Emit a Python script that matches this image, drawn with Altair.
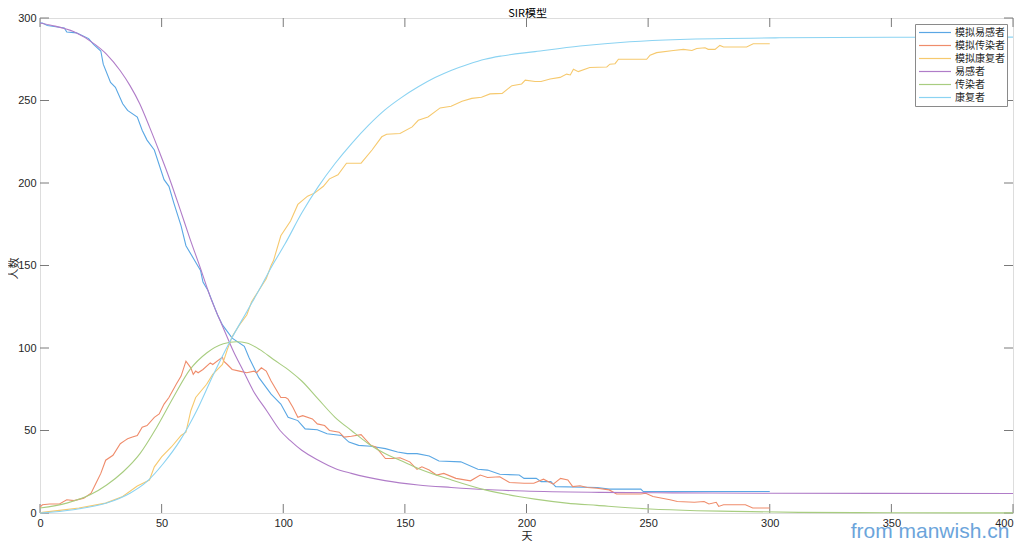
import altair as alt
import pandas as pd

# ---------------- data ----------------
names = ["模拟易感者", "模拟传染者", "模拟康复者", "易感者", "传染者", "康复者"]
colors = ["#5aa7e4", "#ef8c6b", "#f6c96e", "#b07cc8", "#a8cd80", "#8bd3f2"]

# simulated susceptible
sim_s_t = [0, 1, 3, 10, 11, 15, 20, 22, 25, 26, 29, 31, 34, 36, 40, 42, 44, 47, 51, 53,
           55, 58, 60, 64, 66, 67, 69, 73, 75, 79, 84, 86, 90, 95, 99, 102, 106, 109, 114, 118,
           124, 127, 131, 136, 142, 147, 151, 155, 160, 164, 173, 180, 184, 189, 197, 199, 204, 206, 210, 212,
           229, 234, 247, 248, 300]
sim_s_v = [297, 297, 295.5, 294, 291.5, 291, 287.5, 284, 280, 272, 261, 258, 248, 244, 240, 232, 226, 220, 202, 198,
           188, 174, 162, 152, 147, 140, 135, 120, 114, 106, 101, 94, 82, 72, 66, 58, 56, 51, 50.5, 48,
           47, 43, 41, 40.5, 39, 37, 36, 36, 34.5, 31.5, 31, 26.5, 26, 23.5, 23, 21, 21, 19, 19, 16,
           15.5, 14.5, 14.5, 13, 13]

# simulated infected
sim_i_t = [0, 1, 4, 8, 11, 14, 18, 21, 23, 25, 27, 30, 33, 35, 36, 38, 40, 42, 44, 47,
           49, 51, 53, 56, 58, 60, 62, 63, 64, 65, 67, 70, 71, 75, 75.5, 77, 79, 82, 85, 88,
           89, 91, 93, 95, 97, 99, 101, 102, 104, 106, 108, 112, 114, 117, 119, 123, 125, 128, 132, 136,
           138, 142, 145, 148, 152, 155, 157, 160, 163, 166, 171, 177, 181, 184, 189, 193, 199, 203, 207, 211,
           214, 217, 219, 222, 225, 229, 234, 237, 247, 249, 252, 259, 262, 269, 273, 275, 278, 279, 281, 290,
           293, 300]
sim_i_v = [3.5, 5, 5.5, 5.5, 8, 7.5, 9, 12, 18, 24, 32, 35, 42, 44, 45, 46, 47, 52, 53, 58,
           60, 66, 70, 78, 83, 92, 88, 84, 86, 85, 87, 91, 90, 94.5, 92, 90, 87, 86, 85, 86,
           85, 88, 86, 80, 75, 70, 70, 69, 64, 58, 59, 57, 54, 53, 50, 49, 46, 46.5, 47.5, 41,
           40, 33, 33, 33.5, 31, 26.5, 28, 26, 23, 24, 21, 19.5, 23, 21.5, 22, 18.5, 18, 18, 20.5, 17.5,
           21, 20, 16, 16.5, 15.5, 15, 14, 11.5, 11.5, 12, 10, 8, 7, 6.5, 7, 5.5, 6.5, 4, 5, 5,
           3, 3]

# simulated recovered
sim_r_t = [0, 1, 8, 16, 27, 34, 40, 45, 47, 50, 54, 58, 60, 62, 64, 68.5, 71, 75, 77, 79,
           82, 85, 87, 90, 93, 95, 96, 99, 103, 106, 110, 113, 116.5, 119, 122.5, 126, 132, 136.5, 140.5, 142.5,
           148, 153, 155.5, 159.5, 164.5, 169, 173.5, 177.5, 181.5, 185, 190, 194, 198, 199.5, 203.5, 206, 209.7, 213.8, 216.5, 218,
           219.3, 221.3, 226, 233, 234.3, 236.4, 237.8, 249.4, 250.8, 253.5, 260.4, 264.5, 268, 270, 273.4, 274.7, 277.5, 279.5, 281, 290.5,
           293.2, 300]
sim_r_v = [0, 0.4, 1.6, 3, 6, 10, 16.4, 20, 28, 34, 40, 47, 49, 62, 70, 78, 84, 90, 99, 107,
           114, 120, 128, 135, 142, 150, 153, 168, 177, 187, 192, 194, 198, 202.5, 205, 212, 212, 220, 228, 229.5,
           230, 234, 238, 240, 245.5, 246.5, 249.5, 251.3, 252, 254, 254.3, 259, 260, 262.3, 261.5, 261.5, 263, 264, 266, 265.5,
           269, 267.5, 270, 270.3, 272, 272.3, 275, 275, 277.5, 279, 280.3, 281, 280.3, 281.5, 282, 281, 281, 283.4, 282.4, 282.4,
           284.4, 284.4]

# model susceptible
det_s_t = [0, 5, 14, 22.6, 27.4, 33, 37, 41, 45, 49.3, 53.4, 57.6, 61.7, 65.8, 70, 75.4, 79.5, 83.6, 87.7, 93.2,
           98.7, 102.8, 107.6, 114.4, 121.3, 128, 141.8, 155.5, 169, 183, 199, 230, 260, 300, 400]
det_s_v = [297, 295.5, 291.6, 284, 278, 268, 259, 248, 234, 218, 202, 184, 166, 149, 131, 112, 98, 86, 74, 62,
           50, 44, 38, 32, 27, 24, 19.6, 17, 15.5, 14.2, 13.3, 12.5, 12.2, 12, 11.8]

# model infected
det_i_t = [0, 11, 20.6, 27.4, 34.2, 41.1, 48, 54.8, 61.7, 68.5, 75.4, 80.8, 85, 90.4, 96, 102.8, 107.6, 114.4, 121.3, 128,
           135, 141.8, 148, 155.5, 169.2, 183, 196.6, 203.5, 216.5, 229, 250.8, 270, 285, 312, 350, 400]
det_i_v = [3, 6, 11, 17, 25, 36, 52, 70, 87, 97, 102.6, 103.8, 103, 99, 93, 86, 80, 69, 58, 50,
           42, 36, 32, 27, 20, 14, 10, 8.4, 6, 4.6, 2.4, 1.4, 1, 0.4, 0.15, 0.05]

# model recovered
det_r_t = [0, 13.7, 27.4, 37, 43.9, 50.7, 57.6, 64.4, 71.3, 78.1, 85, 90.4, 95.9, 100.7, 107.6, 114.4, 121.3, 128.1, 135, 141.8,
           148.7, 155.5, 162.4, 169.2, 176.1, 182.9, 189.8, 203.5, 222, 242.5, 263, 304, 350, 400]
det_r_v = [0, 2, 6, 12, 19, 30, 44, 62, 84, 104, 122, 136, 151, 163, 181.8, 197.8, 211.8, 223.9, 234.9, 244.3,
           251.9, 258.3, 263.9, 268.4, 272, 275, 277, 279.6, 283, 285.6, 287, 288, 288.3, 288.4]

x_ticks = [0, 50, 100, 150, 200, 250, 300, 350, 400]
y_ticks = [0, 50, 100, 150, 200, 250, 300]

title_text = ["SIR模型"]
x_title = "天"
y_title = "人数"
watermark = ["from manwish.cn"]

# ---------------- build ----------------
W, H = 973, 495
AX = "#7a7a7a"
TICK_LEN = 9


def frame(ts, vs, name):
    return pd.DataFrame({"t": ts, "v": vs, "series": name})


sim_df = pd.concat([frame(sim_s_t, sim_s_v, names[0]),
                    frame(sim_i_t, sim_i_v, names[1]),
                    frame(sim_r_t, sim_r_v, names[2])], ignore_index=True)
det_df = pd.concat([frame(det_s_t, det_s_v, names[3]),
                    frame(det_i_t, det_i_v, names[4]),
                    frame(det_r_t, det_r_v, names[5])], ignore_index=True)

xscale = alt.Scale(domain=[0, 400], nice=False, zero=False)
yscale = alt.Scale(domain=[0, 300], nice=False, zero=False)
cscale = alt.Scale(domain=names, range=colors)

xaxis = alt.Axis(title=x_title, values=x_ticks, ticks=False, domain=False, grid=False,
                 labelPadding=4, labelFont="Liberation Sans", labelFontSize=11, labelColor="#262626",
                 labelAlign={"condition": {"test": "datum.value >= 400", "value": "right"}, "value": "center"},
                 titleFont="Noto Sans CJK SC", titleFontSize=11, titleFontWeight="normal",
                 titleColor="#262626", titleY=23, titleBaseline="middle")
yaxis = alt.Axis(title=y_title, values=y_ticks, ticks=False, domain=False, grid=False,
                 labelPadding=4, labelFont="Liberation Sans", labelFontSize=11, labelColor="#262626",
                 titleFont="Noto Sans CJK SC", titleFontSize=11, titleFontWeight="normal",
                 titleColor="#262626", titleAngle=270, titleX=-26, titleY=250, titleBaseline="middle",
                 titleAlign="center")

legend = alt.Legend(title=None, orient="none", legendX=875, legendY=6,
                    symbolType="stroke", symbolSize=1024, symbolStrokeWidth=1.2,
                    symbolOffset=1, clipHeight=13, rowPadding=0, labelOffset=3,
                    labelFont="Noto Sans CJK SC", labelFontSize=10, labelColor="#262626",
                    padding=2, strokeColor="#8a8a8a", fillColor="white", cornerRadius=0)

sim_lines = alt.Chart(sim_df).mark_line(strokeWidth=1.1, interpolate="linear").encode(
    x=alt.X("t:Q", scale=xscale, axis=xaxis),
    y=alt.Y("v:Q", scale=yscale, axis=yaxis),
    color=alt.Color("series:N", scale=cscale, legend=legend, sort=names),
    detail="series:N",
)

det_lines = alt.Chart(det_df).mark_line(strokeWidth=1.1, interpolate="monotone").encode(
    x=alt.X("t:Q", scale=xscale, axis=xaxis),
    y=alt.Y("v:Q", scale=yscale, axis=yaxis),
    color=alt.Color("series:N", scale=cscale, legend=legend, sort=names),
    detail="series:N",
)

xt = pd.DataFrame({"t": x_ticks})
yt = pd.DataFrame({"v": y_ticks})

bottom_ticks = alt.Chart(xt).mark_rule(color=AX, strokeWidth=1).encode(
    x=alt.X("t:Q", scale=xscale, axis=xaxis), y=alt.value(H), y2=alt.value(H - TICK_LEN))
top_ticks = alt.Chart(xt).mark_rule(color=AX, strokeWidth=1).encode(
    x=alt.X("t:Q", scale=xscale, axis=xaxis), y=alt.value(0), y2=alt.value(TICK_LEN))
left_ticks = alt.Chart(yt).mark_rule(color=AX, strokeWidth=1).encode(
    y=alt.Y("v:Q", scale=yscale, axis=yaxis), x=alt.value(0), x2=alt.value(TICK_LEN))
right_ticks = alt.Chart(yt).mark_rule(color=AX, strokeWidth=1).encode(
    y=alt.Y("v:Q", scale=yscale, axis=yaxis), x=alt.value(W), x2=alt.value(W - TICK_LEN))

title_mark = alt.Chart(pd.DataFrame({"label": title_text})).mark_text(
    font="Noto Sans CJK SC", fontSize=11, color="#000000", align="center", baseline="alphabetic"
).encode(text="label:N", x=alt.value(W / 2 + 1), y=alt.value(-1.5))

wm = alt.Chart(pd.DataFrame({"label": watermark})).mark_text(
    font="Liberation Sans", fontSize=21, color="#5b9bd8", align="center", baseline="alphabetic",
    opacity=0.9).encode(text="label:N", x=alt.value(890), y=alt.value(520))

chart = alt.layer(
    bottom_ticks, top_ticks, left_ticks, right_ticks, sim_lines, det_lines, title_mark, wm
).properties(
    width=W, height=H,
    autosize=alt.AutoSizeParams(type="none"),
    padding={"left": 32, "top": 10, "right": 3, "bottom": 28},
).configure_view(
    stroke=AX, strokeWidth=1
).configure(background="white")

chart.save("out.html", embed_options={"renderer": "svg", "actions": False})
